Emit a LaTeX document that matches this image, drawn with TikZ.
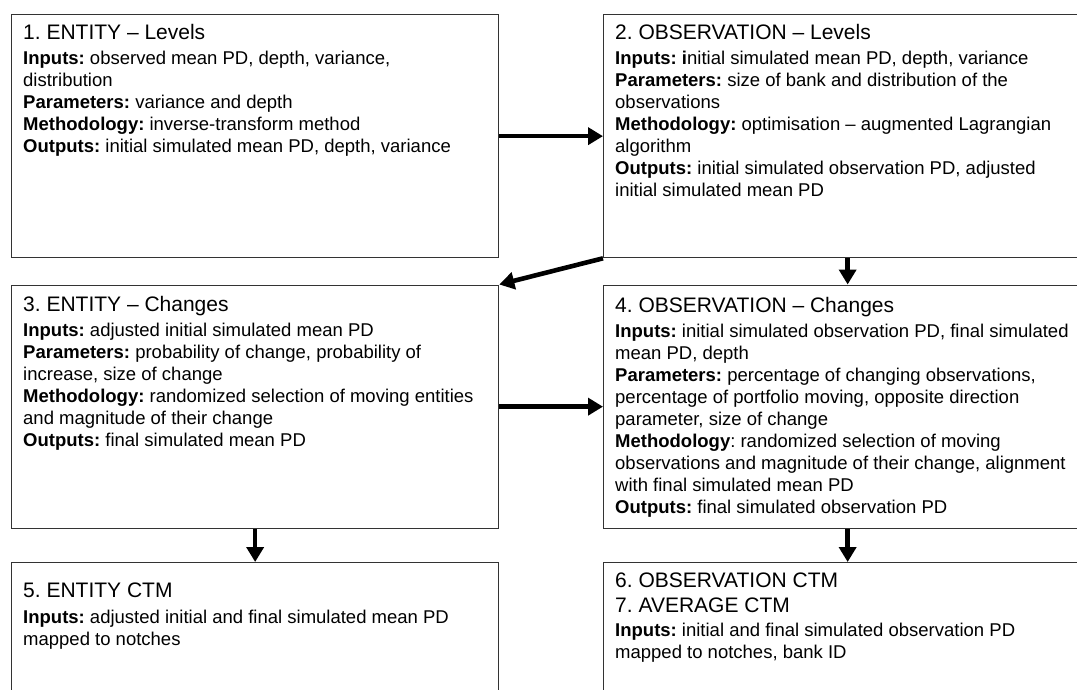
\documentclass[tikz,border=0pt]{standalone}
\usepackage{fontspec}
\setmainfont{Liberation Sans}
\usetikzlibrary{arrows.meta}
\frenchspacing
\newcommand\bodyfont{\fontsize{18.5}{22}\selectfont\frenchspacing}
\newcommand\ttl[2][3pt]{{\fontsize{21}{22}\selectfont #2}\\[#1]}
\tikzset{
  frame/.style={draw=black!80, line width=1.3pt, minimum width=487pt, minimum height=243pt, anchor=north west, inner sep=0pt},
  txt/.style={anchor=north west, align=left, inner sep=0pt, font=\bodyfont},
  flow/.style={line width=4.6pt, -{Triangle[length=15pt,width=17pt]}},
}
\begin{document}
\begin{tikzpicture}[x=1pt,y=-1pt]
\useasboundingbox (0,0) rectangle (1077,689);
\clip (0,0) rectangle (1077,689);
\fill[white] (0,0) rectangle (1077,689);
% frames
\node[frame] (b1) at (11,14) {};
\node[frame, minimum width=488pt] (b2) at (603,14) {};
\node[frame] (b3) at (11,284.5) {};
\node[frame, minimum width=488pt] (b4) at (603,284.5) {};
\node[frame] (b5) at (11,562) {};
\node[frame, minimum width=488pt] (b6) at (603,562) {};
% texts
\node[txt] (t1) at (23,24.5) {\ttl{1. ENTITY – Levels}
\textbf{Inputs:} observed mean PD, depth, variance,\\
distribution\\
\textbf{Parameters:} variance and depth\\
\textbf{Methodology:} inverse-transform method\\
\textbf{Outputs:} initial simulated mean PD, depth, variance};
\node[txt] (t2) at (615,24.5) {\ttl{2. OBSERVATION – Levels}
\textbf{Inputs: i}nitial simulated mean PD, depth, variance\\
\textbf{Parameters:} size of bank and distribution of the\\
observations\\
\textbf{Methodology:} optimisation – augmented Lagrangian\\
algorithm\\
\textbf{Outputs:} initial simulated observation PD, adjusted\\
initial simulated mean PD};
\node[txt] (t3) at (23,296) {\ttl{3. ENTITY – Changes}
\textbf{Inputs:} adjusted initial simulated mean PD\\
\textbf{Parameters:} probability of change, probability of\\
increase, size of change\\
\textbf{Methodology:} randomized selection of moving entities\\
and magnitude of their change\\
\textbf{Outputs:} final simulated mean PD};
\node[txt] (t4) at (615,297) {\ttl{4. OBSERVATION – Changes}
\textbf{Inputs:} initial simulated observation PD, final simulated\\
mean PD, depth\\
\textbf{Parameters:} percentage of changing observations,\\
percentage of portfolio moving, opposite direction\\
parameter, size of change\\
\textbf{Methodology}: randomized selection of moving\\
observations and magnitude of their change, alignment\\
with final simulated mean PD\\
\textbf{Outputs:} final simulated observation PD};
\node[txt] (t5) at (23,583) {\ttl[4pt]{5. ENTITY CTM}
\textbf{Inputs:} adjusted initial and final simulated mean PD\\
mapped to notches};
\node[txt] (t6) at (615,572.5) {\ttl[3pt]{6. OBSERVATION CTM}
\ttl[2pt]{7. AVERAGE CTM}
\textbf{Inputs:} initial and final simulated observation PD\\
mapped to notches, bank ID};
% connectors
\draw[flow] (b1.east) -- (b2.west);
\draw[flow] (b2.south west) -- (b3.north east);
\draw[flow] (b2.south) -- (b4.north);
\draw[flow] (b3.east) -- (b4.west);
\draw[flow] (b3.south) -- (b5.north);
\draw[flow] (b4.south) -- (b6.north);
\end{tikzpicture}
\end{document}
